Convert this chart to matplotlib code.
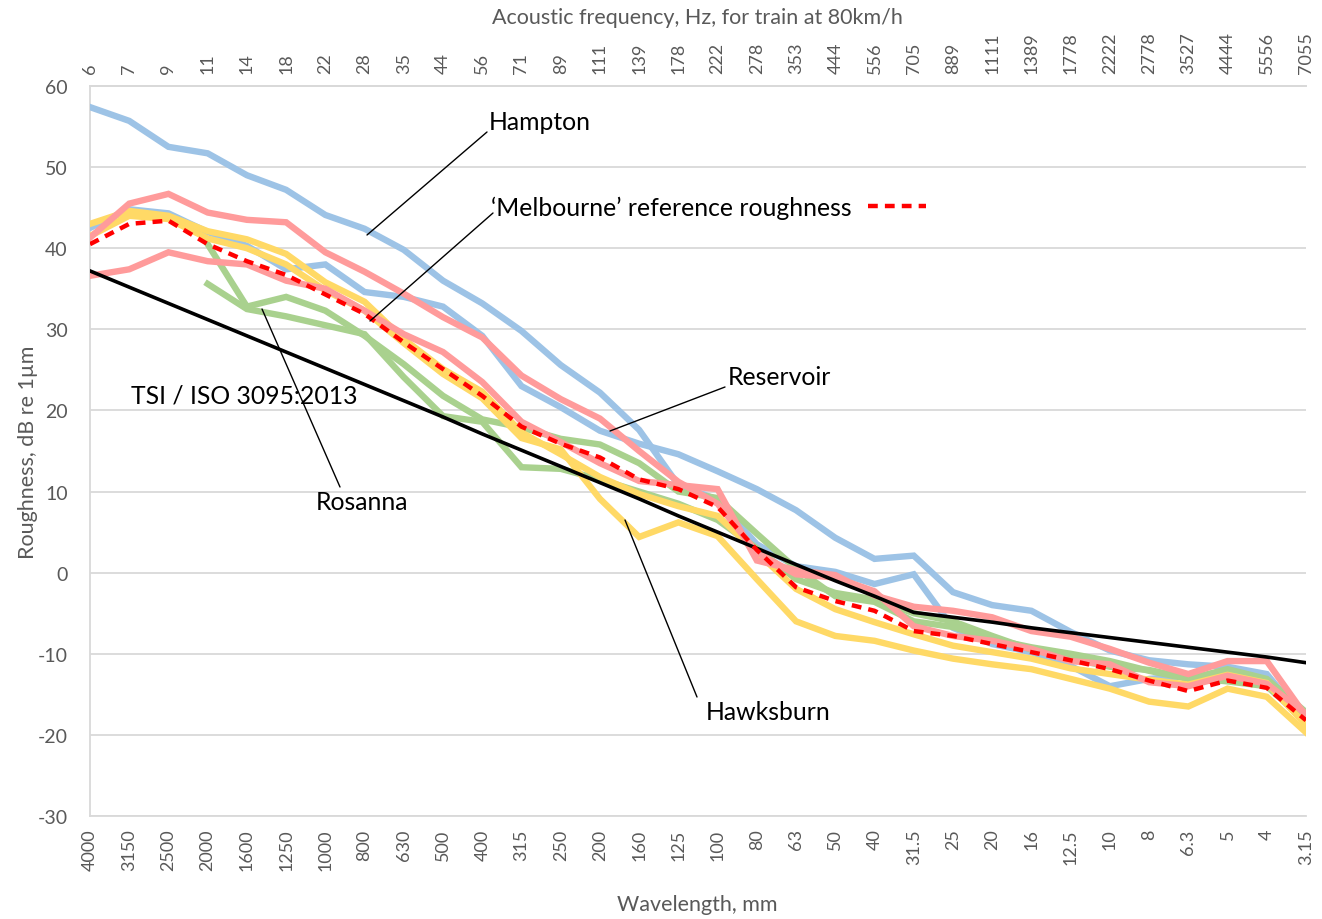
import numpy as np
import matplotlib
matplotlib.use("Agg")
import matplotlib.pyplot as plt

plt.rcParams['font.family'] = ['Lato', 'DejaVu Sans']
plt.rcParams['axes.unicode_minus'] = False

wavelength = ["4000", "3150", "2500", "2000", "1600", "1250", "1000", "800", "630", "500",
              "400", "315", "250", "200", "160", "125", "100", "80", "63", "50", "40", "31.5",
              "25", "20", "16", "12.5", "10", "8", "6.3", "5", "4", "3.15"]
frequency = ["6", "7", "9", "11", "14", "18", "22", "28", "35", "44", "56", "71", "89", "111",
             "139", "178", "222", "278", "353", "444", "556", "705", "889", "1111", "1389",
             "1778", "2222", "2778", "3527", "4444", "5556", "7055"]

nan = np.nan
hampton_a = [57.4, 55.7, 52.5, 51.7, 49.0, 47.2, 44.1, 42.4, 39.8, 36.0, 33.2, 29.8, 25.6, 22.2,
             17.6, 10.8, 9.0, 3.5, 0.8, 0.1, -1.4, -0.2, -6.8, -8.8, -9.8, -11.5, -14.0, -13.1,
             -12.7, -12.8, -13.5, -18.5]
hampton_b = [42.5, 44.8, 44.3, 42.0, 40.3, 37.4, 38.0, 34.6, 34.0, 32.8, 29.2, 23.0, 20.4, 17.5,
             15.9, 14.6, 12.5, 10.3, 7.7, 4.3, 1.7, 2.1, -2.4, -4.0, -4.7, -7.3, -9.6, -10.8,
             -11.3, -11.6, -12.5, -18.3]
rosanna_a = [nan, nan, nan, 40.5, 32.8, 34.0, 32.3, 29.2, 25.7, 21.8, 18.9, 17.9, 16.5, 15.8,
             13.5, 10.0, 9.2, 4.8, 0.5, -2.9, -3.6, -6.0, -6.7, -8.2, -9.2, -10.0, -10.9, -12.1,
             -13.1, -11.9, -13.1, -17.2]
rosanna_b = [nan, nan, nan, 35.6, 32.5, 31.6, 30.5, 29.4, 24.1, 19.3, 18.6, 13.0, 12.8, 11.5,
             10.0, 8.5, 6.5, 3.0, -0.8, -2.5, -3.3, -5.0, -6.0, -7.8, -9.5, -10.6, -11.6, -12.0,
             -13.0, -13.4, -14.0, -18.3]
hawksburn_a = [43.0, 44.6, 44.0, 42.1, 41.1, 39.3, 35.8, 33.4, 28.8, 25.1, 22.3, 17.3, 14.6, 11.8,
               9.7, 8.2, 7.0, 2.5, -2.0, -4.5, -6.1, -7.6, -9.0, -9.8, -10.6, -11.8, -12.5, -13.2,
               -13.8, -12.6, -13.6, -18.8]
hawksburn_b = [41.5, 44.0, 43.6, 41.2, 40.0, 38.0, 34.8, 32.3, 28.3, 24.5, 21.5, 16.6, 15.2, 9.1,
               4.4, 6.2, 4.5, -0.8, -6.0, -7.8, -8.4, -9.6, -10.6, -11.3, -11.9, -13.1, -14.3,
               -15.9, -16.5, -14.3, -15.3, -19.7]
reservoir_a = [41.3, 45.5, 46.7, 44.4, 43.5, 43.2, 39.5, 37.1, 34.4, 31.5, 29.0, 24.3, 21.4, 19.0,
               15.0, 11.2, 8.5, 2.5, -0.2, -0.6, -2.3, -6.6, -7.8, -8.4, -9.4, -10.9, -11.3,
               -13.5, -14.0, -12.7, -13.7, -17.4]
reservoir_b = [36.6, 37.4, 39.5, 38.4, 38.0, 36.0, 35.0, 32.3, 29.4, 27.2, 23.5, 18.6, 16.1, 13.5,
               11.3, 10.8, 10.3, 1.5, 0.3, -0.3, -2.8, -4.2, -4.7, -5.5, -7.2, -7.9, -9.4, -11.1,
               -12.5, -10.9, -10.9, -17.7]
melbourne_ref = [40.5, 43.0, 43.4, 40.5, 38.4, 36.7, 34.3, 31.9, 28.4, 25.1, 21.8, 18.0, 15.9,
                 14.2, 11.5, 10.3, 8.1, 2.8, -1.8, -3.5, -4.7, -7.2, -7.8, -8.8, -9.8, -10.8,
                 -11.9, -13.3, -14.6, -13.3, -14.2, -18.2]
tsi_iso3095 = [37.2, 35.2, 33.2, 31.2, 29.2, 27.2, 25.2, 23.2, 21.2, 19.2, 17.1, 15.1, 13.1, 11.1,
               9.1, 7.0, 5.0, 3.0, 1.0, -1.0, -2.9, -4.9, -5.5, -6.1, -6.8, -7.4, -8.0, -8.6,
               -9.2, -9.8, -10.4, -11.1]

BLUE = "#9DC3E6"
GREEN = "#A9D18E"
YELLOW = "#FFD966"
PINK = "#FF9B9B"
GRAY_TXT = "#595959"
GRID = "#D9D9D9"

W, H = 1322, 920
fig = plt.figure(figsize=(W / 100, H / 100), dpi=100)
L, R, T, B = 90, 1306, 87, 817
ax = fig.add_axes([L / W, 1 - B / H, (R - L) / W, (B - T) / H])

x = np.arange(len(wavelength))
lw_c = 4.6
for ys, c in [(hampton_a, BLUE), (hampton_b, BLUE),
              (rosanna_a, GREEN), (rosanna_b, GREEN),
              (hawksburn_a, YELLOW), (hawksburn_b, YELLOW),
              (reservoir_a, PINK), (reservoir_b, PINK)]:
    ax.plot(x, ys, color=c, lw=lw_c, solid_joinstyle='miter', zorder=3)
ax.plot(x, tsi_iso3095, color="black", lw=2.6, zorder=4)
ref_line, = ax.plot(x, melbourne_ref, color="#FF0000", lw=3.2, dashes=(2.2, 1.6), zorder=5)

ax.set_xlim(0, len(wavelength) - 1)
ax.set_ylim(-30, 60)
ax.set_yticks(np.arange(-30, 61, 10))
ax.grid(axis='y', color=GRID, lw=1.3, zorder=0)
ax.set_axisbelow(True)

ax.set_xticks(x)
ax.set_xticklabels(wavelength, rotation=90, fontsize=13, color=GRAY_TXT)
ax.tick_params(axis='x', length=0, pad=9)
ax.tick_params(axis='y', length=0, pad=16, labelsize=14, labelcolor=GRAY_TXT)
ax.set_xticks(x[::3], minor=True)
ax.tick_params(axis='x', which='minor', direction='in', length=8, color=GRID, width=1.2)

ax.spines['right'].set_visible(False)
for s in ['left', 'bottom', 'top']:
    ax.spines[s].set_color(GRID)
    ax.spines[s].set_linewidth(1.3)

ax2 = ax.twiny()
ax2.set_xlim(ax.get_xlim())
ax2.set_xticks(x)
ax2.set_xticklabels(frequency, rotation=90, fontsize=13, color=GRAY_TXT)
ax2.tick_params(axis='x', length=0, pad=9)
ax2.set_xticks(x[::3], minor=True)
ax2.tick_params(axis='x', which='minor', direction='in', length=8, color=GRID, width=1.2)
for s in ['right', 'left', 'bottom']:
    ax2.spines[s].set_visible(False)
ax2.spines['top'].set_color(GRID)
ax2.spines['top'].set_linewidth(1.3)

fig.text(697 / W, 1 - 18 / H, "Acoustic frequency, Hz, for train at 80km/h", ha='center', va='center',
         fontsize=15.5, color=GRAY_TXT)
fig.text(697 / W, 1 - 905 / H, "Wavelength, mm", ha='center', va='center',
         fontsize=15.5, color=GRAY_TXT)
fig.text(28 / W, 1 - 452 / H, "Roughness, dB re 1µm", ha='center', va='center', rotation=90,
         fontsize=15.5, color=GRAY_TXT)

def px2data(px, py):
    return ((px - L) / (R - L) * (len(wavelength) - 1), 60 - (py - T) / (B - T) * 90)

ann_fs = 17.8
lp = dict(arrowstyle='-', color='black', lw=1.0, shrinkA=0, shrinkB=0)
for label, tip, end, tpos in [
        ("Hampton", (367, 236), (487, 133), (489, 123)),
        ("Reservoir", (610, 432), (725, 388), (728, 378)),
        ("Rosanna", (262, 310), (340, 488), (316, 502)),
        ("Hawksburn", (625, 521), (697, 698), (706, 712))]:
    ax.annotate("", xy=px2data(*tip), xytext=px2data(*end), arrowprops=lp, zorder=6,
                annotation_clip=False)
    ax.text(*px2data(*tpos), label, ha='left', va='center', fontsize=ann_fs, color='black', zorder=6)

ax.annotate("", xy=px2data(370, 322), xytext=px2data(493, 214), arrowprops=lp, zorder=6)
ax.text(*px2data(131, 396), "TSI / ISO 3095:2013", ha='left', va='center', fontsize=ann_fs,
        color='black', zorder=6)

fs_px = ann_fs * 100 / 72
leg = ax.legend([ref_line], ["\u2018Melbourne\u2019 reference roughness"], loc='center left',
                bbox_to_anchor=((491 - L) / (R - L), (B - 208) / (B - T)), frameon=False,
                markerfirst=False, fontsize=ann_fs, handlelength=58 / fs_px,
                handletextpad=16 / fs_px, borderpad=0, borderaxespad=0)
leg.set_zorder(7)

fig.savefig("out.png", dpi=100)
